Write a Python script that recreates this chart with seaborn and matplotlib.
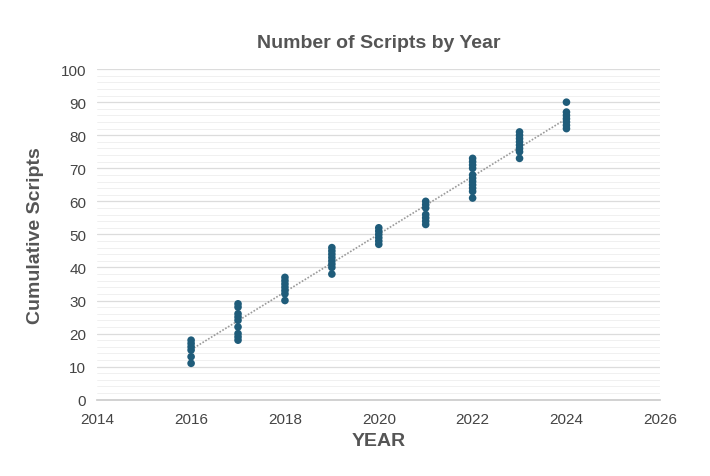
import matplotlib
matplotlib.use("Agg")
import matplotlib.pyplot as plt
import seaborn as sns
import pandas as pd
from matplotlib.ticker import MultipleLocator

years = [2016, 2017, 2018, 2019, 2020, 2021, 2022, 2023, 2024]
scripts = [
    [11, 13, 15, 16, 17, 18],
    [18, 19, 20, 22, 24, 25, 26, 28, 29],
    [30, 32, 33, 34, 35, 36, 37],
    [38, 40, 41, 42, 43, 44, 45, 46],
    [47, 48, 49, 50, 51, 52],
    [53, 54, 55, 56, 58, 59, 60],
    [61, 63, 64, 65, 66, 67, 68, 70, 71, 72, 73],
    [73, 75, 76, 77, 78, 79, 80, 81],
    [82, 83, 84, 85, 86, 87, 90],
]
rows = [(y, v) for y, vs in zip(years, scripts) for v in vs]
df = pd.DataFrame(rows, columns=["YEAR", "Cumulative Scripts"])

sns.set_theme(style="white")
plt.rcParams['font.family'] = ['Liberation Sans', 'DejaVu Sans']
fig, ax = plt.subplots(figsize=(7.1, 4.77), dpi=100)
fig.subplots_adjust(left=0.137, right=0.93, top=0.853, bottom=0.16)

sns.regplot(data=df, x="YEAR", y="Cumulative Scripts", scatter=False, ci=None, ax=ax,
            line_kws=dict(color="#9a9a9a", lw=1.2, ls=(0, (1, 1))), truncate=True)
sns.scatterplot(data=df, x="YEAR", y="Cumulative Scripts", ax=ax, color="#1f5c7a",
                s=30, edgecolor="none", zorder=3)

ax.set_xlim(2014, 2026)
ax.set_ylim(0, 100)
ax.xaxis.set_major_locator(MultipleLocator(2))
ax.yaxis.set_major_locator(MultipleLocator(10))
ax.yaxis.set_minor_locator(MultipleLocator(2))
ax.grid(axis="y", which="major", color="#dcdcdc", lw=0.9)
ax.grid(axis="y", which="minor", color="#eeeeee", lw=0.6)
for s in ["top", "right", "left"]:
    ax.spines[s].set_visible(False)
ax.spines["bottom"].set_color("#cccccc")
ax.tick_params(axis="both", labelsize=11, colors="#444444", length=0)
ax.tick_params(axis="x", pad=9)
ax.tick_params(axis="y", pad=8)
ax.set_xlabel("YEAR", fontsize=14, fontweight="bold", color="#555555", labelpad=4)
ax.set_ylabel("Cumulative Scripts", fontsize=14, fontweight="bold", color="#555555", labelpad=12)
ax.set_title("Number of Scripts by Year", fontsize=14, fontweight="bold", color="#555555", pad=16)
fig.savefig("out.png", dpi=100)
